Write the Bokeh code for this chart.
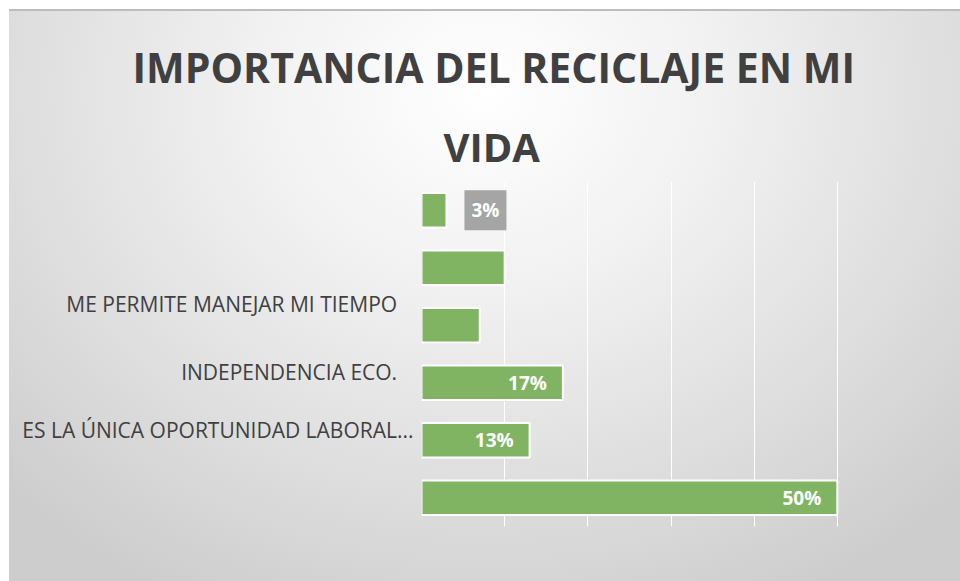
from bokeh.plotting import figure
from bokeh.models import FactorRange, FixedTicker, ColumnDataSource, LabelSet, Label, Title
from bokeh.core.properties import value
from bokeh.embed import file_html
from bokeh.resources import INLINE

NB = "\u00a0"
title_lines = ["IMPORTANCIA DEL RECICLAJE EN MI", "VIDA"]
# categories, top to bottom (blank ones kept unique with non-breaking spaces)
categories = [NB, NB * 2,
              "ME PERMITE MANEJAR MI TIEMPO" + NB * 3 + "\n" + NB + "\n" + NB,
              "INDEPENDENCIA ECO." + NB * 3 + "\n" + NB,
              "ES LA ÚNICA OPORTUNIDAD LABORAL..." + "\n" + NB,
              NB * 3]
values = [3, 10, 7, 17, 13, 50]
data_labels = ["3%", "", "", "17%", "13%", "50%"]
label_inside = [False, False, False, True, True, True]
x_ticks = [0, 10, 20, 30, 40, 50, 60]

factors = list(reversed(categories))
p = figure(width=951, height=570, output_backend="svg", toolbar_location=None,
           y_range=FactorRange(factors=factors), x_range=(0, 60),
           title=title_lines[0],
           min_border_left=412, min_border_right=40, min_border_top=170, min_border_bottom=55)
p.styles = {"margin-left": "9px", "margin-top": "11px",
            "box-shadow": "0 -2px 0 #bdbdbd",
            "background": "radial-gradient(ellipse 70% 100% at 50% 14%, #ffffff 0%, #f1f1f1 35%, #dedede 70%, #cdcdcd 100%)"}
p.background_fill_color = None
p.border_fill_color = None
p.outline_line_color = None

p.title.text_font = "Open Sans"
p.title.text_font_size = "41px"
p.title.text_font_style = "bold"
p.title.text_color = "#404040"
p.title.align = "left"
p.title.offset = -289
p.title.standoff = 29
p.add_layout(Title(text=title_lines[1], text_font="Open Sans", text_font_size="40px",
                   text_font_style="bold", text_color="#404040", align="left",
                   offset=22, standoff=15), "above")

src = ColumnDataSource(dict(y=categories, v=values, lab=data_labels))
p.hbar(y="y", right="v", height=0.6, source=src, fill_color="#80b462",
       line_color="white", line_width=2)

ins = ColumnDataSource(dict(y=[c for c, i, l in zip(categories, label_inside, data_labels) if i and l],
                            v=[v for v, i, l in zip(values, label_inside, data_labels) if i and l],
                            lab=[l for i, l in zip(label_inside, data_labels) if i and l]))
p.add_layout(LabelSet(x="v", y="y", text="lab", source=ins, x_offset=-16, text_align="right",
                      text_baseline="middle", text_font=value("Open Sans"), text_font_size="19px",
                      text_font_style="bold", text_color="white"))
for c, v, i, l in zip(categories, values, label_inside, data_labels):
    if l and not i:
        p.add_layout(Label(x=v, y=factors.index(c) + 0.5, text=l, x_offset=39, text_align="center",
                           text_baseline="middle", text_font="Open Sans", text_font_size="19px",
                           text_font_style="bold", text_color="white",
                           background_fill_color="#a5a5a5", padding=7))

p.xaxis.visible = False
p.xgrid.ticker = FixedTicker(ticks=x_ticks)
p.xgrid.grid_line_color = "white"
p.xgrid.grid_line_width = 1
p.ygrid.grid_line_color = None

ya = p.yaxis[0]
ya.major_label_text_font = "Open Sans"
ya.major_label_text_font_size = "21px"
ya.major_label_text_line_height = 0.75
ya.major_label_text_color = "#404040"
ya.axis_line_color = None
ya.major_tick_line_color = None
ya.major_tick_out = 0
ya.major_label_standoff = 8

open("out.html", "w").write(file_html(p, INLINE))
